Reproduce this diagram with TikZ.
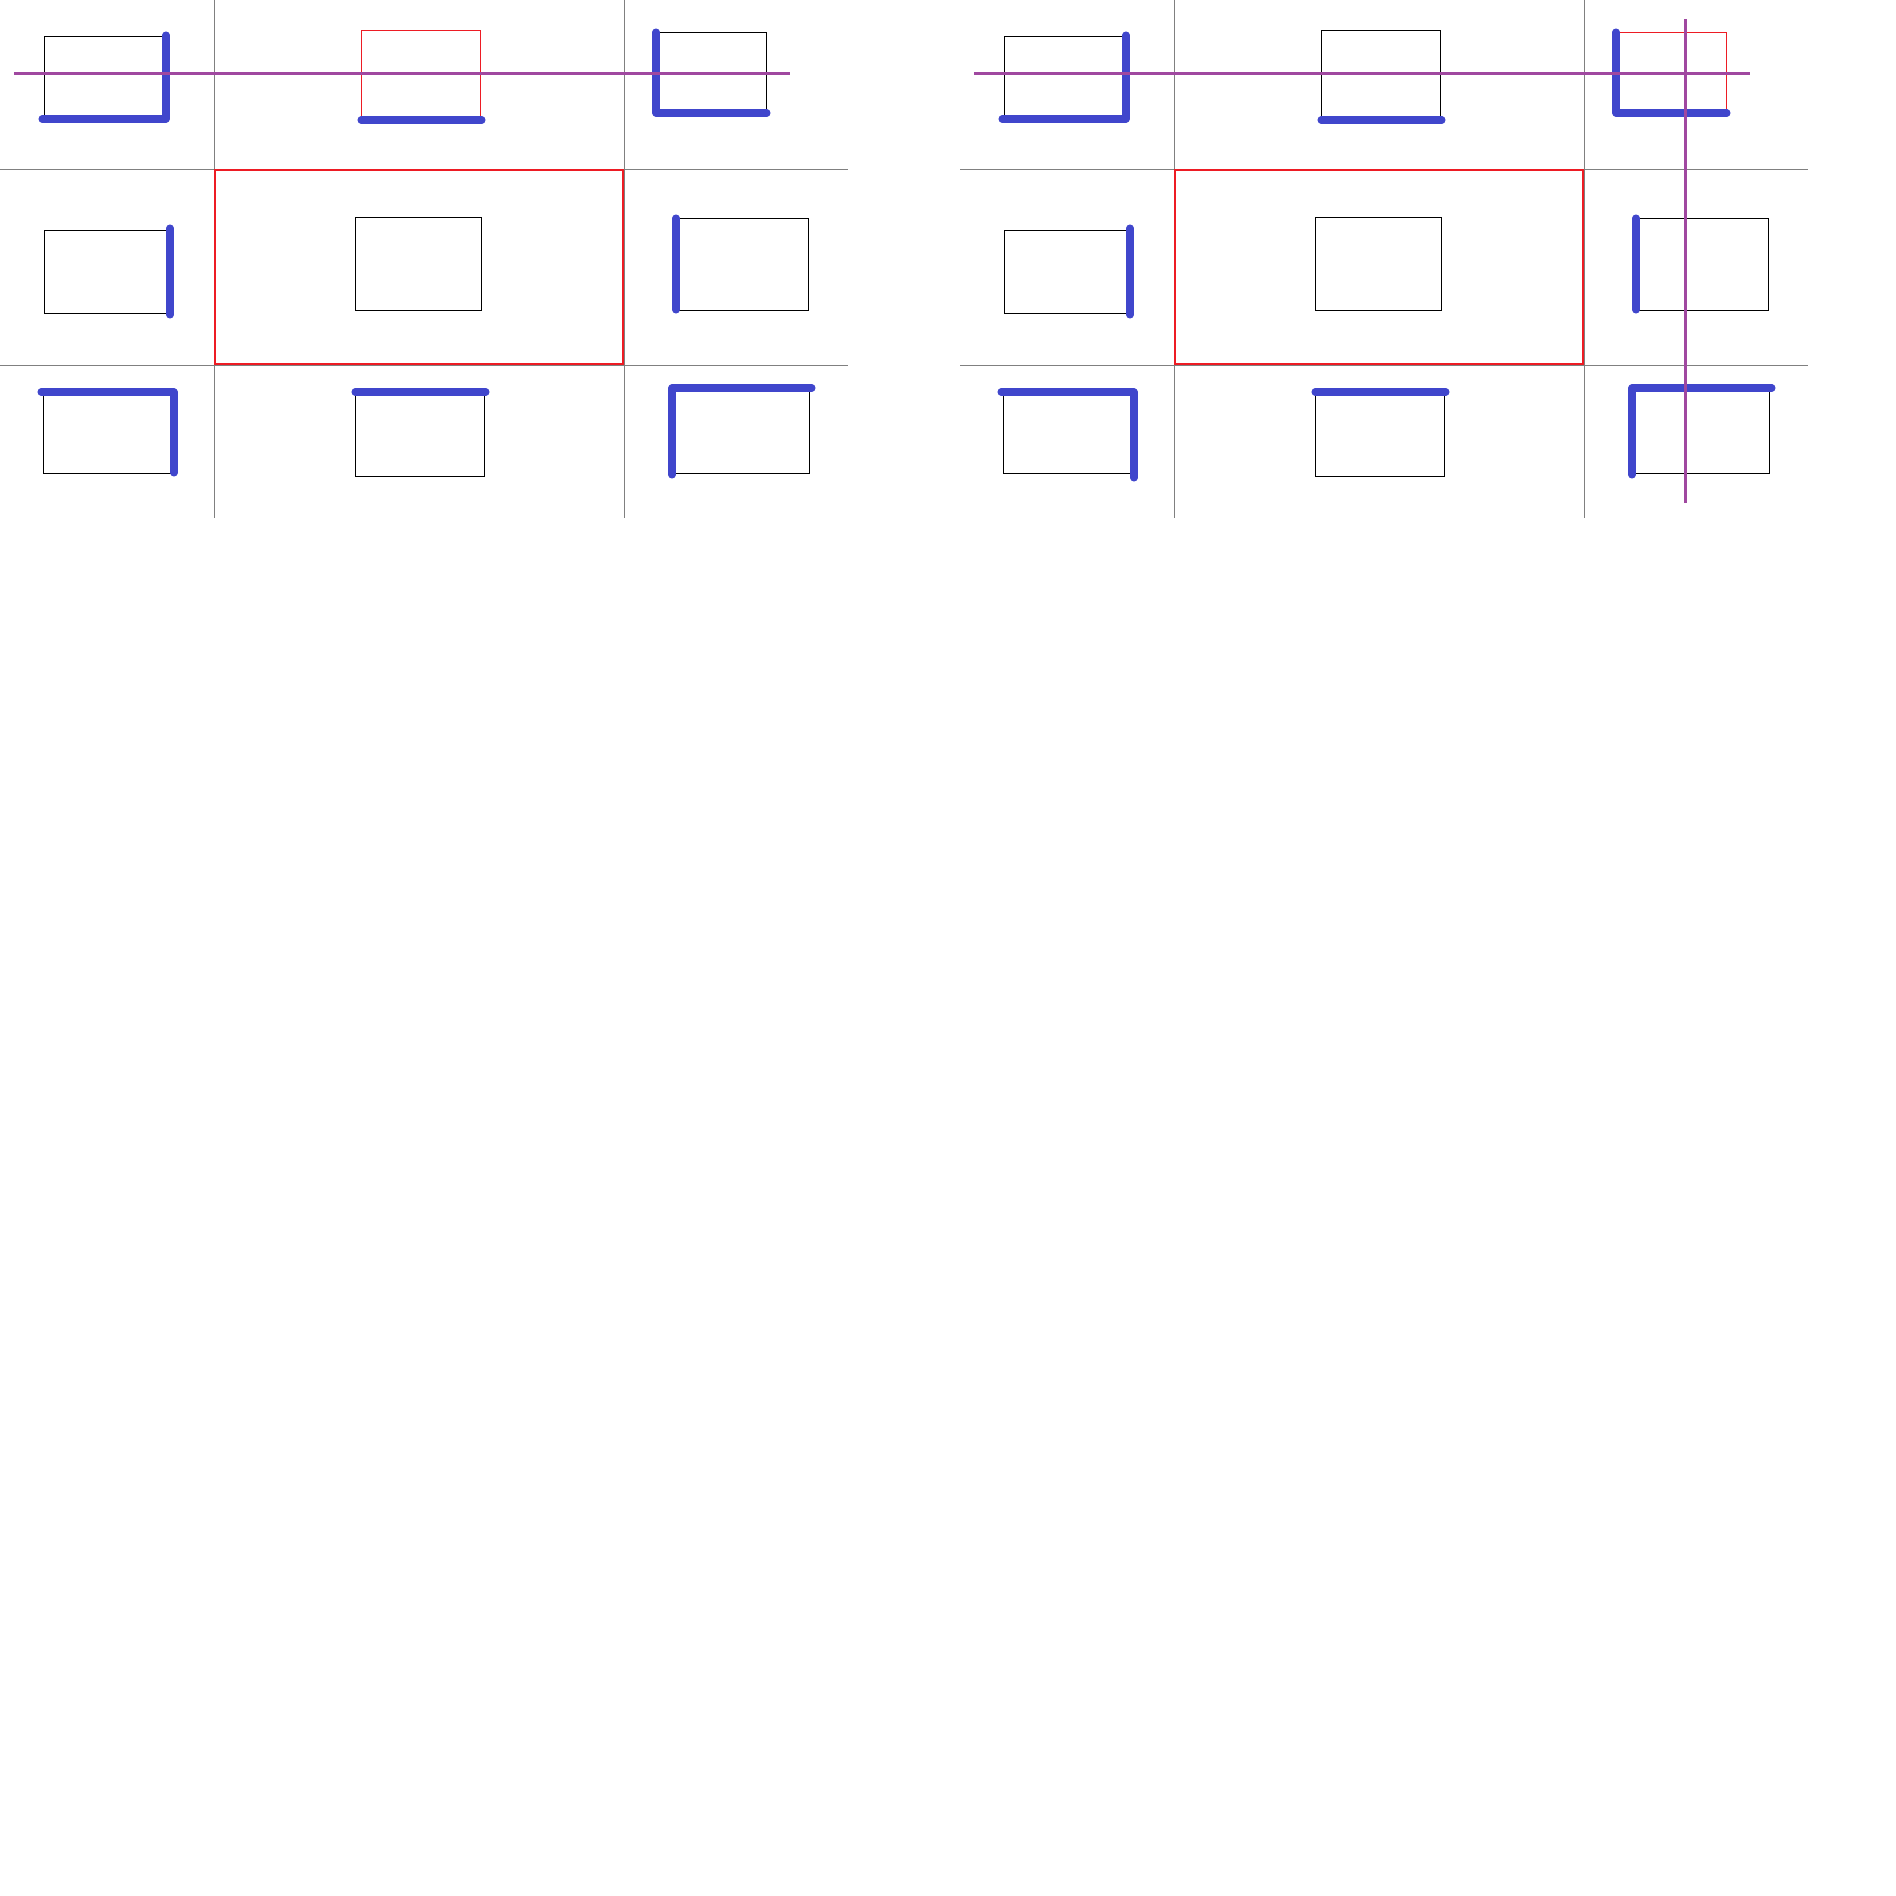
\documentclass[tikz,border=0pt]{standalone}
\definecolor{eblue}{RGB}{64,70,204}
\definecolor{epurple}{RGB}{160,72,160}
\definecolor{ered}{RGB}{237,28,36}
\definecolor{egray}{RGB}{128,128,128}
\begin{document}
\begin{tikzpicture}[x=0.01cm,y=-0.01cm,
  gridline/.style={draw=egray,line width=0.45pt},
  box/.style={draw=black,line width=0.4pt},
  redbox/.style={draw=ered,line width=0.35pt},
  bigred/.style={draw=ered,line width=0.6pt},
  hl/.style={draw=eblue,line width=2pt,line cap=round,line join=round},
  cutline/.style={draw=epurple,line width=0.8pt}]
\useasboundingbox (0,0) rectangle (1896,1896);
% grid, regions and boxes of both panels
\foreach \o in {0,960}{
  \begin{scope}[xshift=\o*0.01cm]
    \draw[gridline] (214.5,0) -- (214.5,518);
    \draw[gridline] (624.3,0) -- (624.3,518);
    \draw[gridline] (0,169.3) -- (847.7,169.3);
    \draw[gridline] (0,365.3) -- (847.7,365.3);
    \draw[bigred] (215.3,170.3) rectangle (623.3,364.3);
    \draw[box] (44.3,36.3) rectangle (166,119);
    \draw[box] (44.3,230.3) rectangle (170,313.3);
    \draw[box] (355.3,217.3) rectangle (481.7,310.3);
    \draw[box] (676,218.3) rectangle (808.7,310.3);
    \draw[box] (43.3,392) rectangle (174,473.3);
    \draw[box] (355.3,392) rectangle (484.3,476.3);
    \draw[box] (672.3,388) rectangle (809.3,473.3);
  \end{scope}
}
% panel-specific top boxes
\draw[redbox] (361.3,30.3) rectangle (480.3,120);
\draw[box] (656,32.3) rectangle (766.7,113);
\draw[box] (1321.3,30.3) rectangle (1440.3,120);
\draw[redbox] (1616,32.3) rectangle (1726.7,113);
% highlighted edges
\foreach \o in {0,960}{
  \begin{scope}[xshift=\o*0.01cm]
    \draw[hl] (42,119) -- (166,119) -- (166,35);
    \draw[hl] (361,120) -- (482,120);
    \draw[hl] (656,32) -- (656,113) -- (767,113);
    \draw[hl] (170,228) -- (170,315);
    \draw[hl] (676,218) -- (676,310);
    \draw[hl] (355,392) -- (486,392);
    \draw[hl] (672,475) -- (672,388) -- (812,388);
  \end{scope}
}
\draw[hl] (41,392) -- (174,392) -- (174,473);
\draw[hl] (1001,392) -- (1134,392) -- (1134,478);
% cut lines
\draw[cutline] (14,73.3) -- (790,73.3);
\draw[cutline] (974,73.3) -- (1750,73.3);
\draw[cutline] (1685.3,19) -- (1685.3,503.3);
\end{tikzpicture}
\end{document}
